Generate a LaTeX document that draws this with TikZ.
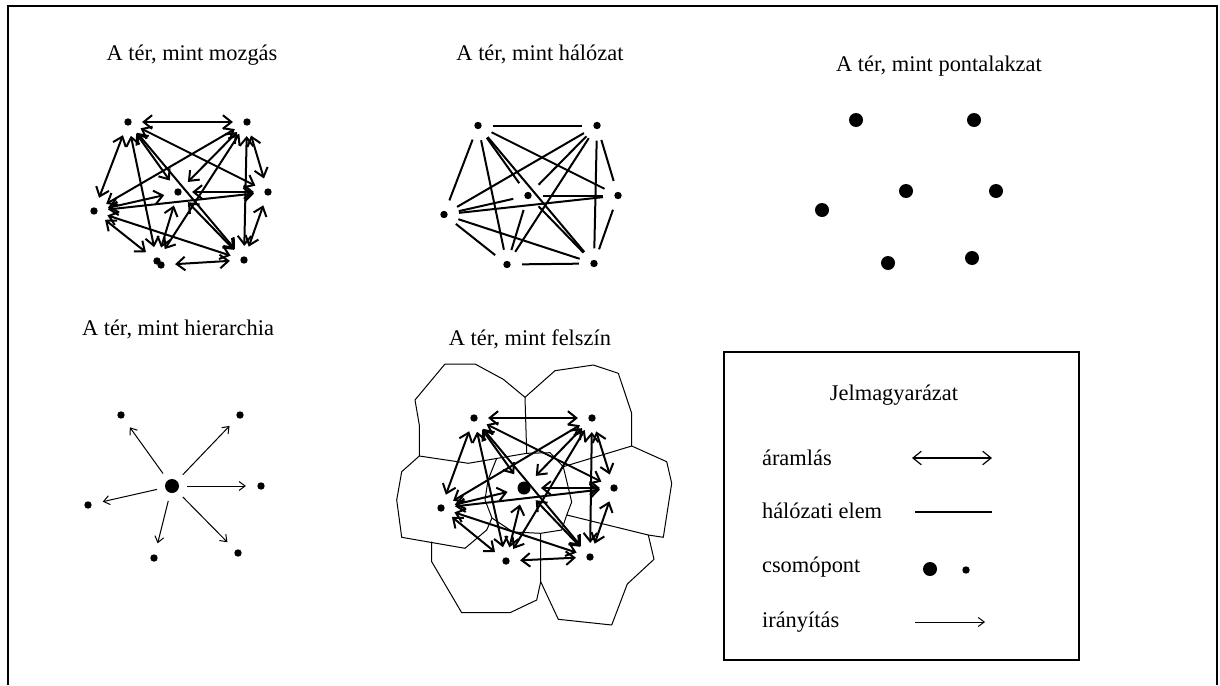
\documentclass[tikz,border=0pt]{standalone}
\usepackage{fontspec}
\setmainfont{Liberation Serif}
\usetikzlibrary{arrows.meta}

\tikzset{
  dot/.style={circle, fill, inner sep=0pt, minimum size=3.7pt},
  bigdot/.style={circle, fill, inner sep=0pt, minimum size=7pt},
  flow/.style={{Straight Barb[length=4.2pt,width=6.8pt]}-{Straight Barb[length=4.2pt,width=6.8pt]}, line width=1pt, shorten <=5pt, shorten >=5pt},
  link/.style={line width=1pt, shorten <=5.5pt, shorten >=5.5pt},
  ctrl/.style={-{Straight Barb[length=3pt,width=4.5pt]}, line width=0.5pt, shorten <=4pt, shorten >=5.5pt},
  cell/.style={line width=0.5pt, line join=round},
  title/.style={anchor=base},
  legtext/.style={anchor=base west}
}

\begin{document}
\begin{tikzpicture}[x=0.5pt, y=-0.5pt, font=\fontsize{11.2}{13.4}\selectfont]
\useasboundingbox (0,0) rectangle (1220,685);
\draw[line width=0.7pt] (8,685) -- (8,6) -- (1217,6) -- (1217,685);

% titles
\node[title] (T1) at (192,60) {A tér, mint mozgás};
\node[title] (T2) at (540,60) {A tér, mint hálózat};
\node[title] (T3) at (939,71) {A tér, mint pontalakzat};
\node[title] (T4) at (178,335) {A tér, mint hierarchia};
\node[title] (T5) at (530,345) {A tér, mint felszín};

% mozgas
\node[dot] (M1) at (128,122) {};
\node[dot] (M2) at (247,122) {};
\node[dot] (M3) at (178,192) {};
\node[dot] (M4) at (268,192) {};
\node[dot] (M5) at (94,211) {};
\node[dot] (M6) at (157,261) {};
\node[dot] (M6b) at (161,265) {};
\node[dot] (M7) at (244,260) {};

\draw[flow] (M1) to (M2); \draw[flow] (M1) to (M5); \draw[flow] (M1) to (M3); \draw[flow] (M1) to (M6); \draw[flow] (M1) to (M7);
\draw[flow] (M1) to (M4); \draw[flow] (M2) to (M5); \draw[flow] (M2) to (M3); \draw[flow] (M2) to (M6); \draw[flow] (M2) to (M7);
\draw[flow] (M2) to (M4); \draw[flow] (M3) to (M4); \draw[flow] (M3) to (M5); \draw[flow] (M3) to (M6); \draw[flow] (M3) to (M7);
\draw[flow] (M5) to (M4); \draw[flow] (M5) to (M7); \draw[flow] (M5) to (M6); \draw[flow] (M6b) to (M7); \draw[flow] (M4) to (M7);

% halozat
\node[dot] (H1) at (478,125.5) {};
\node[dot] (H2) at (597,125.5) {};
\node[dot] (H3) at (528,195.5) {};
\node[dot] (H4) at (618,195.5) {};
\node[dot] (H5) at (444,214.5) {};
\node[dot] (H6) at (507,264.5) {};
\node[dot] (H7) at (594,263.5) {};

\draw[link] (H1) to (H2); \draw[link] (H1) to (H5); \draw[link] (H1) to (H3); \draw[link] (H1) to (H6); \draw[link] (H1) to (H7);
\draw[link] (H1) to (H4); \draw[link] (H2) to (H5); \draw[link] (H2) to (H3); \draw[link] (H2) to (H6); \draw[link] (H2) to (H7);
\draw[link] (H2) to (H4); \draw[link] (H3) to (H4); \draw[link] (H3) to (H5); \draw[link] (H3) to (H6); \draw[link] (H3) to (H7);
\draw[link] (H5) to (H4); \draw[link] (H5) to (H7); \draw[link] (H5) to (H6); \draw[link] (H6) to (H7); \draw[link] (H4) to (H7);

% pontalakzat
\node[bigdot] (P1) at (856,120) {};
\node[bigdot] (P2) at (974,120) {};
\node[bigdot] (P3) at (906,191) {};
\node[bigdot] (P4) at (996,191) {};
\node[bigdot] (P5) at (822,210) {};
\node[bigdot] (P6) at (888,263) {};
\node[bigdot] (P7) at (972,258) {};

% hierarchia
\node[bigdot] (R0) at (172,486) {};
\node[dot] (R1) at (121,415) {};
\node[dot] (R2) at (240,415) {};
\node[dot] (R3) at (261,486) {};
\node[dot] (R4) at (88,505) {};
\node[dot] (R5) at (154,558) {};
\node[dot] (R6) at (238,553) {};

\draw[ctrl] (R0) to (R1); \draw[ctrl] (R0) to (R2); \draw[ctrl] (R0) to (R3);
\draw[ctrl] (R0) to (R4); \draw[ctrl] (R0) to (R5); \draw[ctrl] (R0) to (R6);

% felszin: cells
\draw[cell] (415,400) -- (445,364) -- (475,364) -- (503.3,379.3) -- (525,397.3) -- (526.7,453.3) -- (468.3,463.3) -- (419.3,456) -- (419.3,425) -- cycle;
\draw[cell] (525,397.3) -- (555,370.7) -- (593.3,365) -- (618.3,373.3) -- (631.7,413.3) -- (631.7,446) -- (563.3,466.7) -- (550,452.7) -- (526.7,453.3);
\draw[cell] (631.7,446) -- (666.7,461.7) -- (671.7,483.3) -- (663.3,537.3) -- (648.3,535) -- (566.7,515) -- (571.7,502) -- (563.3,466.7);
\draw[cell] (648.3,535) -- (654,559.3) -- (627.3,584) -- (611.7,625) -- (558.3,619.3) -- (540.7,581.7) -- (540.7,533.3) -- (561.7,530) -- (566.7,515);
\draw[cell] (540.7,581.7) -- (536.7,600) -- (510,612.7) -- (461.7,612.7) -- (431.7,561.7) -- (431.7,541.7);
\draw[cell] (419.3,456) -- (401.7,471.7) -- (396.7,500) -- (401.7,537.3) -- (465,548.3) -- (486.7,530) -- (492,518) -- (485,500) -- (488,480) -- (496.7,458.3);
\draw[cell] (492,518) -- (513,532) -- (540.7,533.3);

\node[dot] (F1) at (474,418) {};
\node[dot] (F2) at (592,418) {};
\node[circle, fill, inner sep=0pt, minimum size=6.5pt] (F3) at (524,488) {};
\node[dot] (F4) at (614,488) {};
\node[dot] (F5) at (441,508) {};
\node[dot] (F6) at (506,561) {};
\node[dot] (F7) at (590,557) {};

\draw[flow] (F1) to (F2); \draw[flow] (F1) to (F5); \draw[flow] (F1) to (F3); \draw[flow] (F1) to (F6); \draw[flow] (F1) to (F7);
\draw[flow] (F1) to (F4); \draw[flow] (F2) to (F5); \draw[flow] (F2) to (F3); \draw[flow] (F2) to (F6); \draw[flow] (F2) to (F7);
\draw[flow] (F2) to (F4); \draw[flow] (F3) to (F4); \draw[flow] (F3) to (F5); \draw[flow] (F3) to (F6); \draw[flow] (F3) to (F7);
\draw[flow] (F5) to (F4); \draw[flow] (F5) to (F7); \draw[flow] (F5) to (F6); \draw[flow] (F6) to (F7); \draw[flow] (F4) to (F7);

% jelmagyarazat
\draw[line width=0.7pt] (724,352) rectangle (1079,660);
\node[title] (L0) at (894,400) {Jelmagyarázat};
\node[legtext] (L1) at (755,465) {áramlás};
\node[legtext] (L2) at (755,518) {hálózati elem};
\node[legtext] (L3) at (755,572) {csomópont};
\node[legtext] (L4) at (755,627) {irányítás};

\coordinate (A1) at (912,458); \coordinate (B1) at (992,458);
\coordinate (A2) at (915,512); \coordinate (B2) at (992,512);
\coordinate (A4) at (915,622); \coordinate (B4) at (985,622);
\draw[flow, line width=0.6pt, shorten <=0pt, shorten >=0pt] (A1) to (B1);
\draw[link, line width=0.7pt, shorten <=0pt, shorten >=0pt] (A2) to (B2);
\node[bigdot] (D1) at (930,569) {};
\node[dot] (D2) at (966,570) {};
\draw[ctrl, shorten <=0pt, shorten >=0pt] (A4) to (B4);
\end{tikzpicture}
\end{document}
